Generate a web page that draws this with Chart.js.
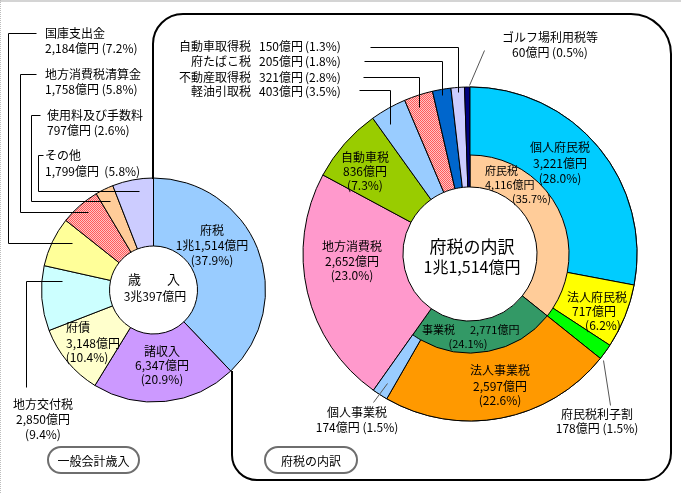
<!DOCTYPE html>
<html lang="ja">
<head>
<meta charset="utf-8" />
<title>一般会計歳入と府税の内訳</title>
<style>
    html, body { margin: 0; padding: 0; background: #fff; }
    #wrap { position: relative; width: 681px; height: 494px; overflow: hidden; }
    #wrap canvas { position: absolute; left: 0; top: 0; }
</style>
</head>
<body>
<div id="wrap">
    <canvas id="revenue" width="681" height="494"></canvas>
    <canvas id="taxBase" width="681" height="494"></canvas>
    <canvas id="taxOuter" width="681" height="494"></canvas>
</div>

<script src="https://cdn.jsdelivr.net/npm/chart.js@4.4.3/dist/chart.umd.min.js"></script>
<script>
    // 一般会計歳入 (億円)
    const revenueNames = ['府税', '諸収入', '府債', '地方交付税', '国庫支出金', '地方消費税清算金', '使用料及び手数料', 'その他'];
    const revenueValues = [11514, 6347, 3148, 2850, 2184, 1758, 797, 1799];
    const revenuePcts = [37.9, 20.9, 10.4, 9.4, 7.2, 5.8, 2.6, 5.8];

    // 府税の内訳 (億円) - full-width slices
    const taxNames = ['府民税', '事業税', '地方消費税', '自動車税', '軽油引取税', '不動産取得税', '府たばこ税', '自動車取得税', 'ゴルフ場利用税等'];
    const taxValues = [4116, 2771, 2652, 836, 403, 321, 205, 150, 60];
    const taxPcts = [35.7, 24.1, 23.0, 7.3, 3.5, 2.8, 1.8, 1.3, 0.5];

    // breakdown of 府民税 / 事業税 (outer ring)
    const subNames = ['個人府民税', '法人府民税', '府民税利子割', '法人事業税', '個人事業税'];
    const subValues = [3221, 717, 178, 2597, 174];
    const subPcts = [28.0, 6.2, 1.5, 22.6, 1.5];

    const W = 681, H = 494;
    const FONT = '"Noto Sans CJK JP", "Noto Sans", sans-serif';

    function hatch(ctx) {
        const c = document.createElement('canvas');
        c.width = 2; c.height = 2;
        const g = c.getContext('2d');
        g.fillStyle = '#ffc4c4';
        g.fillRect(0, 0, 2, 2);
        g.fillStyle = '#ff5a5a';
        g.fillRect(0, 0, 1, 1);
        g.fillRect(1, 1, 1, 1);
        return ctx.createPattern(c, 'repeat');
    }

    // padding that puts the doughnut centre at (cx, cy) with outer radius r
    function place(cx, cy, r, bw) {
        const side = 2 * r + bw;
        return {
            left: cx - side / 2,
            top: cy - side / 2,
            right: W - (cx + side / 2),
            bottom: H - (cy + side / 2)
        };
    }

    function baseOptions(padding, cutout) {
        return {
            responsive: false,
            animation: false,
            cutout: cutout,
            layout: { padding: padding },
            plugins: { legend: { display: false }, tooltip: { enabled: false } },
            events: []
        };
    }

    const revCanvas = document.getElementById('revenue');
    const revCtx = revCanvas.getContext('2d');

    new Chart(revCanvas, {
        type: 'doughnut',
        data: {
            labels: revenueNames,
            datasets: [{
                data: revenueValues,
                backgroundColor: ['#99ccff', '#cc99ff', '#ffffcc', '#ccffff', '#ffff99', hatch(revCtx), '#ffcc99', '#ccccff'],
                borderColor: '#000',
                borderWidth: 1
            }]
        },
        options: baseOptions(place(153.5, 290, 112, 1), 44)
    });

    const baseCanvas = document.getElementById('taxBase');
    new Chart(baseCanvas, {
        type: 'doughnut',
        data: {
            labels: taxNames,
            datasets: [{
                data: taxValues,
                backgroundColor: ['#ffcc99', '#339966', '#ff99cc', '#99cc00', '#99ccff', hatch(baseCanvas.getContext('2d')), '#0066cc', '#ccccff', '#000080'],
                borderColor: '#000',
                borderWidth: 1
            }]
        },
        options: baseOptions(place(470, 254, 167, 1), 67)
    });

    // outer ring: subdivisions of 府民税 and 事業税, the rest left empty
    const restCount = taxValues.length - 2;
    const outerValues = subValues.concat(taxValues.slice(2));
    const outerColors = ['#00ccff', '#ffff00', '#00ff00', '#ff9900', '#99ccff'].concat(Array(restCount).fill('rgba(0,0,0,0)'));
    const outerBorders = subValues.map(() => 1).concat(Array(restCount).fill(0));

    function line(ctx, pts, color) {
        ctx.beginPath();
        ctx.strokeStyle = color || '#000';
        ctx.lineWidth = 1;
        pts.forEach((p, i) => {
            const x = p[0] + 0.5, y = p[1] + 0.5;
            if (i === 0) ctx.moveTo(x, y); else ctx.lineTo(x, y);
        });
        ctx.stroke();
    }

    function txt(ctx, s, x, y, align, size) {
        ctx.font = (size || 12) + 'px ' + FONT;
        ctx.textAlign = align || 'center';
        ctx.textBaseline = 'middle';
        ctx.fillStyle = '#000';
        ctx.fillText(s, x, y);
    }

    function pill(ctx, x, y, w, h, label) {
        ctx.beginPath();
        ctx.roundRect(x, y, w, h, h / 2);
        ctx.fillStyle = '#fff';
        ctx.fill();
        ctx.strokeStyle = '#6e6e6e';
        ctx.lineWidth = 2;
        ctx.stroke();
        txt(ctx, label, x + w / 2, y + h / 2 + 1);
    }

    const fmt = v => v.toLocaleString('en-US');
    const yen = v => fmt(v) + '億円';
    const pc = p => '(' + p.toFixed(1) + '%)';

    const decorations = {
        id: 'decorations',
        afterDraw(chart) {
            const ctx = chart.ctx;
            ctx.save();

            // page edge
            ctx.fillStyle = '#d4d4d4';
            ctx.fillRect(0, 0, W, 2);
            ctx.fillStyle = '#bdbdbd';
            for (let y = 0; y < H; y += 2) ctx.fillRect(0, y, 1, 1);

            // frame around 府税の内訳
            ctx.beginPath();
            ctx.strokeStyle = '#000';
            ctx.lineWidth = 2;
            ctx.moveTo(153, 179);
            ctx.lineTo(153, 44);
            ctx.arcTo(153, 14, 183, 14, 30);
            ctx.lineTo(631, 14);
            ctx.arcTo(671, 14, 671, 54, 40);
            ctx.lineTo(671, 453);
            ctx.arcTo(671, 480, 644, 480, 27);
            ctx.lineTo(257, 480);
            ctx.arcTo(232, 480, 232, 455, 25);
            ctx.lineTo(232, 371);
            ctx.stroke();

            // leaders, left
            line(ctx, [[36, 33], [8, 33], [8, 243], [72, 243]]);
            line(ctx, [[36, 74], [20, 74], [20, 212], [88, 212]]);
            line(ctx, [[40, 115], [31, 115], [31, 201], [110, 201]]);
            line(ctx, [[43, 155], [38, 155], [38, 191], [139, 191]]);
            line(ctx, [[62, 281], [26, 281], [26, 387]]);

            // leaders, right
            line(ctx, [[370, 47], [458, 47], [458, 92]]);
            line(ctx, [[364, 61], [442, 61], [442, 95]]);
            line(ctx, [[363, 77], [419, 77], [419, 107]]);
            line(ctx, [[359, 90], [390, 90], [390, 124]]);
            line(ctx, [[469, 85], [484, 50]], '#555');
            line(ctx, [[603, 360], [610, 405]], '#555');
            line(ctx, [[387, 383], [373, 402]], '#555');

            // left labels
            txt(ctx, revenueNames[4], 45, 33, 'left');
            txt(ctx, yen(revenueValues[4]) + ' ' + pc(revenuePcts[4]), 45, 48, 'left');
            txt(ctx, revenueNames[5], 45, 74, 'left');
            txt(ctx, yen(revenueValues[5]) + ' ' + pc(revenuePcts[5]), 45, 89, 'left');
            txt(ctx, revenueNames[6], 47, 115, 'left');
            txt(ctx, yen(revenueValues[6]) + ' ' + pc(revenuePcts[6]), 47, 130, 'left');
            txt(ctx, revenueNames[7], 45, 155, 'left');
            txt(ctx, yen(revenueValues[7]) + '  ' + pc(revenuePcts[7]), 45, 171, 'left');

            txt(ctx, revenueNames[0], 212, 230);
            txt(ctx, '1兆1,514億円', 212, 245);
            txt(ctx, pc(revenuePcts[0]), 212, 260);

            txt(ctx, '歳　　入', 154, 279, 'center', 13);
            txt(ctx, '3兆397億円', 155, 296);

            txt(ctx, revenueNames[2], 66, 327, 'left');
            txt(ctx, yen(revenueValues[2]), 66, 343, 'left');
            txt(ctx, pc(revenuePcts[2]), 87, 357);

            txt(ctx, revenueNames[1], 162, 351);
            txt(ctx, yen(revenueValues[1]), 162, 365);
            txt(ctx, pc(revenuePcts[1]), 162, 379);

            txt(ctx, revenueNames[3], 43, 404);
            txt(ctx, yen(revenueValues[3]), 43, 419);
            txt(ctx, pc(revenuePcts[3]), 43, 434);

            pill(ctx, 48, 447, 91, 26, '一般会計歳入');

            // right: small slices listed top-left
            [[7, 46], [6, 61], [5, 77], [4, 91]].forEach(([i, y]) => {
                txt(ctx, taxNames[i], 251, y, 'right');
                txt(ctx, yen(taxValues[i]), 259, y, 'left');
                txt(ctx, pc(taxPcts[i]), 305, y, 'left');
            });

            txt(ctx, taxNames[8], 550, 37);
            txt(ctx, yen(taxValues[8]) + ' ' + pc(taxPcts[8]), 550, 52);

            txt(ctx, subNames[0], 560, 147);
            txt(ctx, yen(subValues[0]), 560, 163);
            txt(ctx, pc(subPcts[0]), 560, 178);

            txt(ctx, taxNames[0], 485, 171, 'left', 11);
            txt(ctx, yen(taxValues[0]), 485, 185, 'left', 11);
            txt(ctx, pc(taxPcts[0]), 512, 199, 'left', 11);

            txt(ctx, '府税の内訳', 472, 247, 'center', 17);
            txt(ctx, '1兆1,514億円', 472, 267, 'center', 16);

            txt(ctx, taxNames[2], 352, 246);
            txt(ctx, yen(taxValues[2]), 352, 261);
            txt(ctx, pc(taxPcts[2]), 352, 275);

            txt(ctx, taxNames[3], 365, 157);
            txt(ctx, yen(taxValues[3]), 365, 171);
            txt(ctx, pc(taxPcts[3]), 365, 185);

            txt(ctx, taxNames[1], 422, 330, 'left', 11);
            txt(ctx, yen(taxValues[1]), 470, 330, 'left', 11);
            txt(ctx, pc(taxPcts[1]), 468, 344, 'center', 11);

            txt(ctx, subNames[3], 500, 370);
            txt(ctx, yen(subValues[3]), 500, 386);
            txt(ctx, pc(subPcts[3]), 500, 400);

            txt(ctx, subNames[1], 597, 297);
            txt(ctx, yen(subValues[1]), 594, 311);
            txt(ctx, pc(subPcts[1]), 603, 325);

            txt(ctx, subNames[2], 597, 414);
            txt(ctx, yen(subValues[2]) + ' ' + pc(subPcts[2]), 597, 428);

            txt(ctx, subNames[4], 357, 412);
            txt(ctx, yen(subValues[4]) + ' ' + pc(subPcts[4]), 357, 427);

            pill(ctx, 265, 447, 92, 26, '府税の内訳');

            ctx.restore();
        }
    };

    new Chart(document.getElementById('taxOuter'), {
        type: 'doughnut',
        data: {
            labels: subNames.concat(taxNames.slice(2)),
            datasets: [{
                data: outerValues,
                backgroundColor: outerColors,
                borderColor: '#000',
                borderWidth: outerBorders
            }]
        },
        options: baseOptions(place(470, 254, 167, 1), 99),
        plugins: [decorations]
    });
</script>
</body>
</html>
